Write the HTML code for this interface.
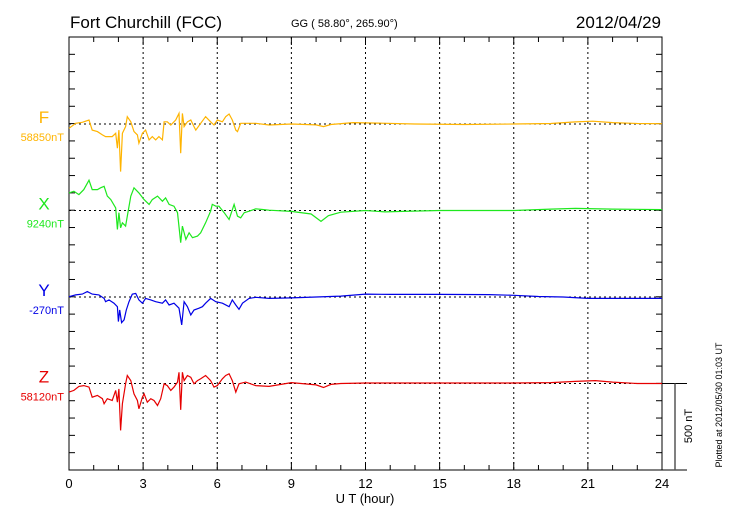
<!DOCTYPE html>
<html><head><meta charset="utf-8"><style>
body{margin:0;background:#fff}
svg{display:block;font-family:"Liberation Sans",sans-serif}
</style></head><body>
<svg id="chart" width="730" height="520" viewBox="0 0 730 520" xmlns="http://www.w3.org/2000/svg">
<rect width="730" height="520" fill="#fff"/>
<text x="70" y="28" font-size="17">Fort Churchill (FCC)</text>
<text x="291" y="27" font-size="11">GG ( 58.80°, 265.90°)</text>
<text x="661" y="28" font-size="17" text-anchor="end">2012/04/29</text>
<text x="365" y="503" font-size="13" text-anchor="middle">U T (hour)</text>
<text transform="translate(722,405) rotate(-90)" font-size="9" text-anchor="middle">Plotted at 2012/05/30 01:03 UT</text>
<text transform="translate(692,426) rotate(-90)" font-size="11" text-anchor="middle">500 nT</text>
<g id="grid"></g><g id="axes"></g><g id="series"></g><g id="labels"></g>
</svg>
<script>
const hourTicks=[0,3,6,9,12,15,18,21,24];
const seriesNames=["F","X","Y","Z"];
const baseLabels=["58850nT","9240nT","-270nT","58120nT"];
const colors=["#ffb400","#1ee81e","#0000e6","#e60000"];
const fT=[0,0.27,0.54,0.81,0.94,1.15,1.35,1.48,1.75,1.89,1.96,2.02,2.09,2.16,2.29,2.36,2.5,2.63,2.77,2.83,2.97,3.1,3.24,3.37,3.51,3.64,3.78,3.85,3.98,4.12,4.32,4.45,4.52,4.59,4.66,4.79,4.93,5.06,5.13,5.33,5.53,5.73,5.87,6.0,6.21,6.34,6.48,6.61,6.75,6.82,6.95,7.15,7.56,8.1,9,10,10.3,10.6,11.5,12.5,14,16,18,19.5,20.5,21.2,22,23,24];
const fV=[-25,4,10,23,-35,-44,-63,-73,-73,-54,-140,-35,-275,-54,-15,42,13,-44,-63,-111,-54,-35,-92,-73,-92,-73,-92,13,13,-6,23,61,-169,61,-15,13,23,-15,-35,4,42,13,-6,23,13,42,58,23,-35,-44,4,4,4,-6,0,-5,-15,-3,8,5,0,-3,0,3,12,16,8,3,2];
const xT=[0,0.2,0.4,0.6,0.81,0.94,1.15,1.28,1.42,1.55,1.69,1.89,1.96,2.02,2.09,2.16,2.29,2.36,2.5,2.63,2.83,3.04,3.24,3.37,3.58,3.78,3.91,4.05,4.25,4.39,4.52,4.59,4.73,4.86,5.0,5.2,5.33,5.53,5.73,5.8,5.94,6.07,6.28,6.48,6.68,6.82,6.95,7.09,7.29,7.56,7.83,8.1,9,9.8,10.2,10.5,11,12,12.8,13.5,15,18,19.5,20.5,22,24];
const xV=[102,111,92,121,175,121,121,131,140,83,63,15,-109,-13,-100,-71,-90,-33,83,131,102,63,35,63,83,54,73,35,25,-13,-186,-90,-167,-129,-157,-148,-129,-71,-4,35,25,25,-13,-52,35,-33,-42,-13,-4,10,6,2,-5,-20,-63,-30,-10,0,-8,-5,0,0,8,12,8,5];
const yT=[0,0.27,0.54,0.74,0.94,1.21,1.42,1.48,1.62,1.82,1.96,2.0,2.05,2.13,2.23,2.32,2.43,2.56,2.7,2.83,2.97,3.1,3.31,3.51,3.78,3.91,4.05,4.25,4.45,4.56,4.66,4.79,4.93,5.06,5.26,5.4,5.53,5.73,5.94,6.21,6.48,6.61,6.75,6.88,7.02,7.29,7.56,8.1,9,10,11,12,13,15,17,18,19,20,21,22,24];
const yV=[2,12,17,31,17,12,-8,-27,-17,-36,-56,-142,-75,-148,-132,-75,-27,17,21,-17,-36,-8,-17,-27,-36,-17,-46,-36,-65,-161,-27,-56,-104,-75,-65,-56,-36,-8,-27,-36,-56,-17,-46,-71,-36,-8,-2,-8,-5,0,5,17,15,15,14,10,3,0,-8,-8,-8];
const zT=[0,0.2,0.4,0.6,0.81,0.94,1.15,1.35,1.42,1.55,1.75,1.89,1.96,2.02,2.09,2.16,2.29,2.36,2.5,2.63,2.77,2.83,2.97,3.04,3.17,3.31,3.44,3.58,3.71,3.85,3.98,4.12,4.25,4.39,4.45,4.52,4.59,4.66,4.79,4.93,5.06,5.2,5.33,5.53,5.73,5.87,6.0,6.21,6.34,6.48,6.61,6.75,6.88,7.15,7.56,8.1,9,10,10.3,10.6,11,12,15,18,19.5,20.5,21.3,22,23,24];
const zV=[-50,-40,-17,-12,-21,-79,-69,-88,-117,-88,-98,-40,-108,-31,-271,-117,-2,46,17,-60,-98,-146,-79,-60,-108,-88,-98,-127,-88,-2,-12,-40,-21,8,65,-152,65,17,46,36,-2,17,27,46,17,-21,-12,27,46,56,17,-50,-2,8,-12,-17,5,-8,-23,-5,0,3,3,3,5,12,17,8,0,0];
const times=[fT,xT,yT,zT];
const vals=[fV,xV,yV,zV];

const L=69,R=662,T=37,B=470;
const baseY=[124,210.5,297,383.5];
const pxPerNT=86.5/500;
const sx=h=>L+(R-L)*h/24;
const sy=(i,v)=>baseY[i]-v*pxPerNT;
const NS="http://www.w3.org/2000/svg";
function mk(tag,attrs,parent){const e=document.createElementNS(NS,tag);for(const k in attrs)e.setAttribute(k,attrs[k]);parent.appendChild(e);return e;}
const grid=document.getElementById('grid'),axes=document.getElementById('axes'),ser=document.getElementById('series'),lab=document.getElementById('labels');

hourTicks.forEach(h=>{
  if(h>0&&h<24){const g=mk('line',{x1:sx(h),x2:sx(h),y1:T,y2:B,stroke:'#000','stroke-width':1,'stroke-dasharray':'2,3'},grid);
  
  }
  const t=mk('text',{x:sx(h),y:488,'font-size':13,'text-anchor':'middle'},axes);
  t.textContent=h;
  
  
});
baseY.forEach((y,i)=>{
  const g=mk('line',{x1:L,x2:R,y1:y,y2:y,stroke:'#000','stroke-width':1,'stroke-dasharray':'2,3'},grid);
  
  
});
for(let h=0;h<=24;h++){
  const len=(h%3===0)?8:5;
  mk('line',{x1:sx(h),x2:sx(h),y1:T,y2:T+len,stroke:'#000'},axes);
  mk('line',{x1:sx(h),x2:sx(h),y1:B,y2:B-len,stroke:'#000'},axes);
}
for(let k=0;k<=25;k++){
  const y=T+k*(B-T)/25;
  mk('line',{x1:L,x2:L+6,y1:y,y2:y,stroke:'#000'},axes);
  mk('line',{x1:R,x2:R-6,y1:y,y2:y,stroke:'#000'},axes);
}
const frame=mk('rect',{x:L,y:T,width:R-L,height:B-T,fill:'none',stroke:'#000','stroke-width':1},axes);


mk('line',{x1:R,x2:687,y1:B,y2:B,stroke:'#000'},axes);
mk('line',{x1:R,x2:687,y1:baseY[3],y2:baseY[3],stroke:'#000'},axes);
const sb=mk('line',{x1:675,x2:675,y1:baseY[3],y2:B,stroke:'#555','stroke-width':1.5},axes);



vals.forEach((vs,i)=>{
  const d=vs.map((v,j)=>(j?'L':'M')+sx(times[i][j]).toFixed(1)+','+sy(i,v).toFixed(1)).join('');
  const p=mk('path',{d:d,fill:'none',stroke:colors[i],'stroke-width':1.2},ser);
  
  
  const n=mk('text',{x:44,y:baseY[i]-1,'font-size':17,'text-anchor':'middle',fill:colors[i]},lab);
  n.textContent=seriesNames[i];
  
  
  const b=mk('text',{x:64,y:baseY[i]+17,'font-size':11,'text-anchor':'end',fill:colors[i]},lab);
  b.textContent=baseLabels[i];
  
  
});
</script>
</body></html>
